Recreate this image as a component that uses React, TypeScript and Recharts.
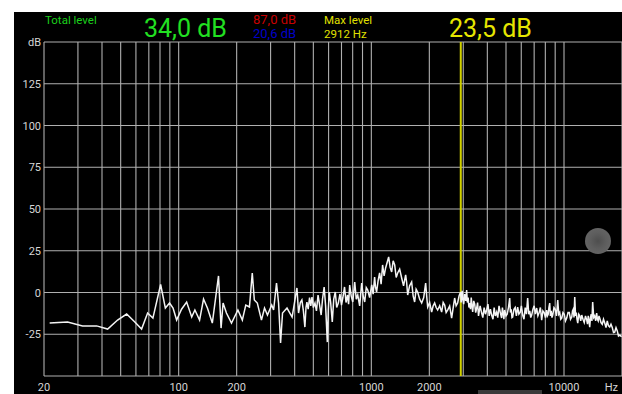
import { CartesianGrid, Line, LineChart, ReferenceLine, XAxis, YAxis } from "recharts";

// spectrum bins (Hz) and levels (dB), 20 Hz .. 2.9 kHz
const lowFreqHz = [
  21.4, 26.5, 31.7, 37.5, 42.8, 48.2, 53.7, 59.2, 64.2, 69, 73.5, 80.6, 85.3, 89.7, 93.5, 97.6,
  103.5, 110, 116.9, 121.4, 128.4, 134.6, 141, 149.5, 161, 166, 170, 177, 188, 203, 214, 223,
  233, 241, 247, 256, 269, 279, 289, 304, 311, 322, 330, 338, 346, 365, 388, 411, 419,
  428, 436, 444, 452, 458, 463, 470, 478, 485, 492, 500, 510, 519, 529, 538, 549, 558, 569, 579,
  591, 598, 605, 615, 627, 638, 650, 661, 674, 687, 700, 712, 726, 739, 752, 762, 772, 786,
  801, 810, 820, 835, 850, 870, 891, 907, 924, 941, 958, 980, 1005,
  1022, 1040, 1052, 1065, 1084, 1104, 1124, 1144, 1165, 1186, 1208, 1230, 1252, 1275, 1298,
  1322, 1346, 1370, 1403, 1437, 1470, 1507, 1525, 1544, 1580, 1619, 1648, 1678, 1708, 1739,
  1782, 1825, 1870, 1914, 1937, 1961, 2008, 2056, 2094, 2131, 2170, 2209, 2263, 2317, 2360,
  2402, 2445, 2489, 2550, 2611, 2660, 2707, 2755, 2805, 2855,
];
const lowDb = [
  -18.3, -17.7, -20, -20, -21.9, -16.5, -12.9, -17.7, -21.9, -12.3, -15.3, 4.8, -9.3, -6.3, -9.3, -16.5,
  -10, -5.7, -14.7, -10.5, -16.5, -3.9, -9.3, -18.3, 9.9, -21.3, -6.3, -12.3, -18.3, -10.5, -16.5, -7.5,
  -8.7, 11.7, -4.5, -6.3, -16.5, -9.3, -13.5, -7.5, -10.5, 5.7, -6.3, -30.2, -12.3, -9.3, -14.7, 2.7, -12.3,
  -6, -4.5, -11, -20.7, -9, -5.7, -10, -3, -8, -2.7, -9, -6.3, -11, -1.5, -7, -13.5, -4, 3.3, -8,
  -29.7, -10, 0.3, -6, -17.7, -4, 0.3, -9, -6.3, -1, -7.5, -3, 3.3, -6, -1.5, -7, 4.5, -2,
  -5.7, 0, 6.3, -4, -1.5, -8, 5.7, -2, -5.7, 3, 1.5, -3, 4.5,
  -1, 9.3, 3, 0.3, 7, 11.7, 5, 16.5, 10, 14.7, 18, 21.3, 15, 12.3, 19,
  16.5, 9, 11.7, 14, 8.7, 4, 10.5, 6, -1.5, 4, 6.3, -2, -5.7, 2, 0.3,
  -4, -6.3, -3, 5.7, -2, -8.7, -6, -11.7, -8, -6.3, -9, -10.5, -8, -11.7, -6,
  -7.5, -12, -10.5, -8, -15.3, -9, -3.3, -8, -6.3, -2,
];

// 2.9 kHz .. 20 kHz, dense noisy tail
const highFreqHz = [
  2908, 2925, 2940, 2960, 2978, 3015, 3050, 3090, 3124, 3150,
  3180, 3210, 3239, 3270, 3300, 3330, 3357, 3400, 3440, 3480,
  3521, 3560, 3600, 3670, 3738, 3790, 3850, 3910, 3967, 4030,
  4090, 4150, 4211, 4280, 4340, 4400, 4471, 4530, 4600, 4670,
  4746, 4790, 4830, 4875, 4920, 5000, 5070, 5150, 5225, 5270,
  5320, 5370, 5414, 5500, 5580, 5660, 5748, 5830, 5920, 6010,
  6102, 6200, 6290, 6380, 6478, 6560, 6640, 6720, 6795, 6900,
  7000, 7100, 7213, 7320, 7430, 7540, 7658, 7770, 7890, 8010,
  8130, 8200, 8280, 8350, 8429, 8500, 8580, 8660, 8740, 8870,
  9000, 9140, 9279, 9390, 9500, 9620, 9733, 9880, 10030, 10180,
  10333, 10490, 10650, 10810, 10970, 11070, 11170, 11270, 11370, 11480,
  11580, 11680, 11786, 11930, 12070, 12210, 12362, 12550, 12740, 12930,
  13124, 13240, 13360, 13480, 13597, 13720, 13840, 13960, 14088, 14260,
  14430, 14600, 14776, 14910, 15050, 15190, 15324, 15560, 15800, 16030,
  16272, 16520, 16770, 17020, 17270, 17530, 17800, 18070, 18336, 18620,
  18900, 19180, 19463, 19900,
];
const highDb = [
  0.3, -6, -4, 1, -2.7, -7, -1, -5, 1.5, -6,
  -3, -9, -6.3, -10, -3, -8, -11.7, -5, -7, -12,
  -9.3, -6, -14, -8, -12.3, -15, -9, -13, -10.5, -7,
  -14, -10, -13.5, -16, -9, -14, -11.7, -15, -8, -12,
  -15.3, -9, -12, -16, -10.5, -14, -13, -9, -3.3, -12,
  -10, -15, -14.7, -10, -9, -14, -8.7, -13, -12, -8,
  -13.5, -16, -9, -13, -3.3, -13, -11, -15, -13.5, -10,
  -8, -13, -9.3, -14, -12, -9, -16.5, -11, -12, -15,
  -10.5, -14, -13, -9, -6.3, -14, -11, -15, -13.5, -9,
  -10, -14, -4.5, -13, -12, -16, -15.3, -12, -13, -17,
  -15.3, -12, -12, -16, -14.7, -11, -10, -15, -2.7, -14,
  -12, -16, -18.3, -13, -14, -17, -13.5, -16, -18, -14,
  -16.5, -19, -14, -17, -20.7, -15, -13, -17, -5.7, -15,
  -14, -17, -12.3, -16, -17, -14, -15.3, -18, -19, -16,
  -18.3, -21, -17, -20, -20.7, -19, -21, -24, -23.7, -21,
  -23, -26, -25.5, -26.5,
];

const gridHz = [
  20, 30, 40, 50, 60, 70, 80, 90, 100, 200, 300, 400, 500, 600, 700, 800, 900,
  1000, 2000, 3000, 4000, 5000, 6000, 7000, 8000, 9000, 10000, 20000,
];
const labelledHz = [20, 100, 200, 1000, 2000, 10000];
const dbTicks = [-50, -25, 0, 25, 50, 75, 100, 125, 150];

const maxFreq = 2912;

const data = [
  ...lowFreqHz.map((f, i) => ({ f, db: lowDb[i] })),
  ...highFreqHz.map((f, i) => ({ f, db: highDb[i] })),
];

const FONT = "Roboto, 'Noto Sans', sans-serif";

function FreqTick({ x, y, payload }: any) {
  const v = payload.value;
  if (v === 20000) {
    return (
      <text x={x - 4} y={y} dy={15} textAnchor="end" fill="#d6d6d6" fontSize={11} fontFamily={FONT}>
        Hz
      </text>
    );
  }
  if (!labelledHz.includes(v)) return <g />;
  return (
    <text x={x} y={y} dy={15} textAnchor="middle" fill="#d6d6d6" fontSize={11} fontFamily={FONT}>
      {v}
    </text>
  );
}

function DbTick({ x, y, payload }: any) {
  const v = payload.value;
  if (v === -50) return <g />;
  return (
    <text x={x} y={y} dy={4} textAnchor="end" fill="#d6d6d6" fontSize={11} fontFamily={FONT}>
      {v === 150 ? "dB" : v}
    </text>
  );
}

export default function App() {
  return (
    <div style={{ position: "absolute", left: 0, top: 0, width: 622, height: 394, background: "#fff", overflow: "hidden" }}>
      <div style={{ position: "absolute", left: 14, top: 12, width: 608, height: 382, background: "#000" }} />
      <div style={{ position: "absolute", left: 0, top: 0, fontFamily: FONT }}>
        <span style={{ position: "absolute", left: 45, top: 13, fontSize: 11.5, color: "#1ccf1c", whiteSpace: "nowrap" }}>Total level</span>
        <span style={{ position: "absolute", left: 144, top: 14, fontSize: 25, color: "#22e022", whiteSpace: "nowrap" }}>34,0 dB</span>
        <span style={{ position: "absolute", left: 253, top: 12, fontSize: 13, color: "#c80000", whiteSpace: "nowrap" }}>87,0 dB</span>
        <span style={{ position: "absolute", left: 253, top: 26, fontSize: 13, color: "#0000c8", whiteSpace: "nowrap" }}>20,6 dB</span>
        <span style={{ position: "absolute", left: 324, top: 13, fontSize: 11.5, color: "#e0e000", whiteSpace: "nowrap" }}>Max level</span>
        <span style={{ position: "absolute", left: 324, top: 27, fontSize: 11.5, color: "#e0e000", whiteSpace: "nowrap" }}>2912 Hz</span>
        <span style={{ position: "absolute", left: 449, top: 14, fontSize: 25, color: "#e6e600", whiteSpace: "nowrap" }}>23,5 dB</span>
      </div>
      <div style={{ position: "absolute", left: 0, top: 0 }}>
        <LineChart width={622} height={394} data={data} margin={{ top: 42, right: 0, bottom: 0, left: 0 }}>
          <CartesianGrid stroke="#b0b0b0" strokeWidth={1.1} />
          <XAxis
            dataKey="f"
            type="number"
            scale="log"
            domain={[20, 20000]}
            ticks={gridHz}
            interval={0}
            allowDataOverflow
            height={18}
            tickSize={0}
            tickMargin={0}
            axisLine={false}
            tick={<FreqTick />}
          />
          <YAxis
            type="number"
            domain={[-50, 150]}
            ticks={dbTicks}
            interval={0}
            width={44}
            tickSize={0}
            tickMargin={3}
            axisLine={false}
            tick={<DbTick />}
          />
          <ReferenceLine x={maxFreq} stroke="#d2d200" strokeWidth={2} />
          <Line
            dataKey="db"
            type="linear"
            stroke="#f4f4f4"
            strokeWidth={1.5}
            dot={false}
            isAnimationActive={false}
          />
        </LineChart>
      </div>
      <div
        style={{
          position: "absolute",
          left: 585,
          top: 228,
          width: 26,
          height: 26,
          borderRadius: "50%",
          background: "radial-gradient(circle, #4e4e4e 0%, #5e5e5e 45%, #6a6a6a 100%)",
        }}
      />
      <div style={{ position: "absolute", left: 478, top: 390, width: 64, height: 4, background: "#3a3a3a" }} />
    </div>
  );
}
